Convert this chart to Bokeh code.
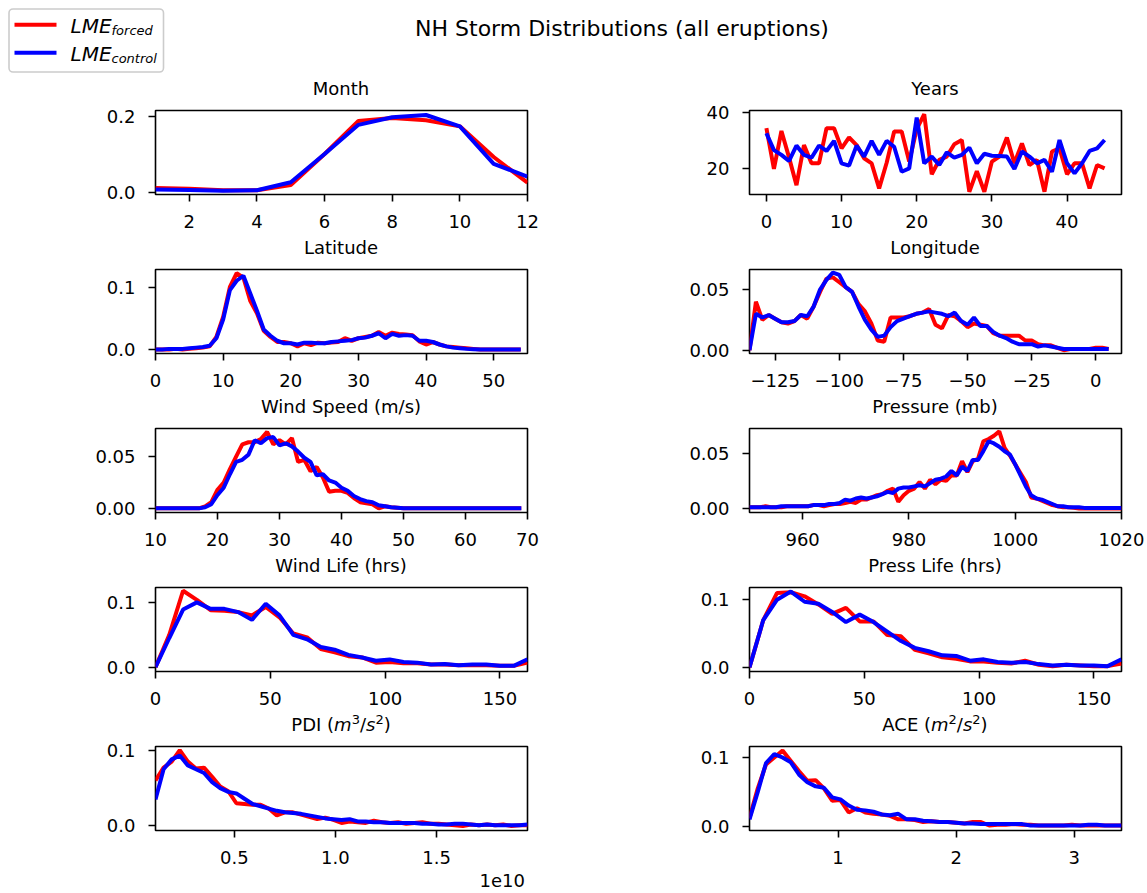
from bokeh.plotting import figure
from bokeh.layouts import column, row
from bokeh.models import Range1d, FixedTicker, NumeralTickFormatter, CustomJSTickFormatter, Quad, Div
from bokeh.core.properties import value
from bokeh.embed import file_html
from bokeh.resources import INLINE

FONT = "DejaVu Sans"
RED = "#ff0000"
BLUE = "#0000ff"

# ---------------- data ----------------
month_x = [1, 2, 3, 4, 5, 6, 7, 8, 9, 10, 11, 12]
month_forced = [0.011, 0.009, 0.005, 0.005, 0.019, 0.101, 0.188, 0.196, 0.190, 0.174, 0.093, 0.025]
month_control = [0.007, 0.006, 0.004, 0.005, 0.026, 0.101, 0.178, 0.198, 0.204, 0.174, 0.075, 0.041]

years_x = list(range(46))
years_forced = [34.3, 19.8, 33.3, 24, 14, 28.3, 21.8, 21.8, 34.3, 34.3,
                27.1, 31, 28.3, 23.6, 21.8, 12.9, 22, 33.1, 33.1, 22.4,
                34, 39.3, 17.9, 23, 24.2, 28.6, 30.1, 11.7, 19, 11.7,
                22.4, 24.2, 31, 21.8, 28.9, 21.2, 23, 11.7, 26, 27.1,
                17.9, 21.8, 21.8, 12.9, 21.2, 20]
years_control = [32.5, 26.5, 24.8, 22.6, 28.1, 24.8, 23.8, 28.1, 26.2, 29.8,
                 21.8, 21, 28.1, 24.2, 29.8, 24.8, 29.8, 27.7, 18.8, 20,
                 38.1, 21.8, 24.2, 21.2, 25.7, 23.8, 24.8, 27.4, 21.8, 25.2,
                 24.5, 24.4, 24.2, 19.8, 26, 24.2, 21.8, 23, 18.8, 30.1,
                 21.8, 18.2, 21.8, 26.2, 27.1, 30.1]

lat_x = list(range(55))
lat_forced = [0.0, 0.0, 0.0, 0.001, 0.0, 0.001, 0.002, 0.003, 0.005, 0.02,
              0.052, 0.1, 0.122, 0.115, 0.078, 0.058, 0.03, 0.02, 0.012, 0.012,
              0.01, 0.005, 0.01, 0.007, 0.011, 0.01, 0.011, 0.012, 0.018, 0.014,
              0.018, 0.02, 0.022, 0.028, 0.022, 0.027, 0.025, 0.024, 0.023, 0.013,
              0.008, 0.012, 0.008, 0.005, 0.004, 0.003, 0.002, 0.001, 0.0, 0.0,
              0.0, 0.0, 0.0, 0.0, 0.0]
lat_control = [0.0, 0.0, 0.001, 0.001, 0.001, 0.002, 0.003, 0.004, 0.006, 0.018,
               0.048, 0.095, 0.11, 0.118, 0.09, 0.062, 0.032, 0.022, 0.014, 0.01,
               0.01, 0.008, 0.011, 0.011, 0.01, 0.01, 0.012, 0.013, 0.014, 0.015,
               0.018, 0.019, 0.022, 0.026, 0.018, 0.025, 0.022, 0.023, 0.022, 0.014,
               0.014, 0.012, 0.008, 0.005, 0.003, 0.002, 0.001, 0.0005, 0.0, 0.0,
               0.0, 0.0, 0.0, 0.0, 0.0]

lon_x = [-135 + 2.5 * i for i in range(57)]
lon_forced = [0.0, 0.04, 0.025, 0.029, 0.026, 0.023, 0.022, 0.024, 0.029, 0.026,
              0.036, 0.048, 0.059, 0.06, 0.056, 0.052, 0.048, 0.038, 0.032, 0.022,
              0.008, 0.007, 0.027, 0.027, 0.027, 0.028, 0.03, 0.031, 0.034, 0.021,
              0.018, 0.029, 0.028, 0.024, 0.019, 0.022, 0.021, 0.02, 0.014, 0.012,
              0.012, 0.012, 0.012, 0.008, 0.008, 0.005, 0.004, 0.004, 0.002, 0.0,
              0.001, 0.001, 0.001, 0.001, 0.002, 0.002, 0.001]
lon_control = [0.0, 0.03, 0.027, 0.029, 0.026, 0.023, 0.023, 0.024, 0.029, 0.028,
               0.036, 0.05, 0.058, 0.064, 0.062, 0.052, 0.048, 0.036, 0.025, 0.017,
               0.011, 0.012, 0.019, 0.024, 0.026, 0.028, 0.03, 0.031, 0.032, 0.031,
               0.03, 0.028, 0.031, 0.024, 0.021, 0.027, 0.02, 0.02, 0.015, 0.012,
               0.01, 0.007, 0.005, 0.005, 0.005, 0.003, 0.004, 0.003, 0.002, 0.001,
               0.001, 0.001, 0.001, 0.001, 0.001, 0.001, 0.001]

wind_x = list(range(10, 70))
wind_forced = [0, 0, 0, 0, 0, 0, 0, 0.0, 0.002, 0.006,
               0.018, 0.025, 0.038, 0.05, 0.062, 0.064, 0.064, 0.067, 0.074, 0.062,
               0.066, 0.062, 0.068, 0.045, 0.047, 0.036, 0.04, 0.03, 0.016, 0.017,
               0.017, 0.015, 0.01, 0.006, 0.005, 0.004, 0.0, 0.002, 0.001, 0.0005,
               0, 0, 0, 0, 0, 0, 0, 0, 0, 0,
               0, 0, 0, 0, 0, 0, 0, 0, 0, 0]
wind_control = [0, 0, 0, 0, 0, 0, 0, 0.0, 0.001, 0.004,
                0.013, 0.02, 0.033, 0.045, 0.047, 0.052, 0.066, 0.063, 0.068, 0.069,
                0.061, 0.063, 0.06, 0.055, 0.049, 0.045, 0.032, 0.033, 0.027, 0.025,
                0.02, 0.017, 0.012, 0.009, 0.007, 0.006, 0.003, 0.002, 0.001, 0.0005,
                0, 0, 0, 0, 0, 0, 0, 0, 0, 0,
                0, 0, 0, 0, 0, 0, 0, 0, 0, 0]

pres_x = list(range(950, 1021))
pres_forced = [0.001, 0.001, 0.001, 0.002, 0.001, 0.001, 0.001, 0.002, 0.002, 0.002,
               0.002, 0.002, 0.003, 0.003, 0.002, 0.003, 0.004, 0.004, 0.005, 0.006,
               0.005, 0.008, 0.008, 0.01, 0.012, 0.013, 0.016, 0.018, 0.006, 0.012,
               0.016, 0.018, 0.024, 0.018, 0.026, 0.022, 0.026, 0.025, 0.03, 0.03,
               0.043, 0.033, 0.043, 0.045, 0.061, 0.063, 0.066, 0.07, 0.055, 0.048,
               0.04, 0.032, 0.024, 0.01, 0.009, 0.007, 0.005, 0.003, 0.002, 0.001,
               0.001, 0.0005, 0, 0, 0, 0, 0, 0, 0, 0, 0]
pres_control = [0.001, 0.001, 0.001, 0.001, 0.001, 0.001, 0.002, 0.002, 0.002, 0.002,
                0.002, 0.002, 0.003, 0.003, 0.003, 0.004, 0.004, 0.005, 0.008, 0.007,
                0.009, 0.01, 0.009, 0.01, 0.011, 0.013, 0.015, 0.014, 0.018, 0.019,
                0.019, 0.02, 0.021, 0.02, 0.023, 0.026, 0.027, 0.029, 0.034, 0.03,
                0.038, 0.034, 0.044, 0.044, 0.052, 0.061, 0.059, 0.056, 0.052, 0.049,
                0.04, 0.03, 0.02, 0.012, 0.009, 0.008, 0.006, 0.004, 0.002, 0.002,
                0.001, 0.001, 0.001, 0.0005, 0.0005, 0.0005, 0.0005, 0.0005, 0.0005, 0.0005, 0.0005]

life_x = [6 * i for i in range(28)]
wlife_forced = [0, 0.05, 0.118, 0.104, 0.088, 0.087, 0.085, 0.08, 0.093, 0.077,
                0.052, 0.046, 0.028, 0.023, 0.017, 0.015, 0.007, 0.008, 0.006, 0.006,
                0.004, 0.004, 0.003, 0.003, 0.003, 0.002, 0.002, 0.007]
wlife_control = [0, 0.045, 0.089, 0.1, 0.09, 0.09, 0.085, 0.073, 0.098, 0.08,
                 0.05, 0.043, 0.031, 0.027, 0.019, 0.015, 0.01, 0.012, 0.008, 0.007,
                 0.004, 0.005, 0.003, 0.004, 0.004, 0.002, 0.002, 0.012]
plife_forced = [0, 0.07, 0.11, 0.111, 0.105, 0.093, 0.079, 0.088, 0.068, 0.068,
                0.048, 0.046, 0.026, 0.021, 0.015, 0.013, 0.009, 0.009, 0.007, 0.006,
                0.01, 0.004, 0.002, 0.004, 0.003, 0.002, 0.002, 0.006]
plife_control = [0, 0.07, 0.1, 0.112, 0.097, 0.094, 0.082, 0.067, 0.078, 0.067,
                 0.053, 0.039, 0.029, 0.024, 0.018, 0.017, 0.01, 0.012, 0.008, 0.007,
                 0.008, 0.005, 0.003, 0.004, 0.003, 0.003, 0.002, 0.012]

pdi_x_1e10 = [round(0.11 + 0.04 * i, 2) for i in range(47)]
pdi_forced = [0.06, 0.077, 0.085, 0.1, 0.085, 0.076, 0.077, 0.065, 0.052, 0.046,
              0.03, 0.029, 0.028, 0.028, 0.023, 0.014, 0.018, 0.018, 0.015, 0.012,
              0.009, 0.011, 0.008, 0.004, 0.006, 0.005, 0.004, 0.007, 0.005, 0.004,
              0.005, 0.003, 0.004, 0.005, 0.003, 0.003, 0.002, 0.001, 0.0, 0.002,
              0.001, 0.002, 0.001, 0.002, 0.0, 0.001, 0.001]
pdi_control = [0.035, 0.075, 0.088, 0.093, 0.08, 0.075, 0.07, 0.058, 0.05, 0.045,
               0.043, 0.036, 0.029, 0.026, 0.023, 0.02, 0.018, 0.017, 0.016, 0.014,
               0.012, 0.01, 0.009, 0.008, 0.009, 0.006, 0.006, 0.005, 0.005, 0.004,
               0.004, 0.004, 0.004, 0.003, 0.003, 0.002, 0.002, 0.003, 0.003, 0.002,
               0.001, 0.002, 0.001, 0.001, 0.001, 0.001, 0.002]

ace_x = [round(0.25 + 0.07 * i, 2) for i in range(46)]
ace_forced = [0.012, 0.055, 0.09, 0.1, 0.11, 0.095, 0.08, 0.066, 0.067, 0.055,
              0.037, 0.038, 0.02, 0.026, 0.02, 0.018, 0.017, 0.015, 0.01, 0.01,
              0.009, 0.006, 0.007, 0.006, 0.006, 0.005, 0.004, 0.006, 0.006, 0.001,
              0.002, 0.002, 0.003, 0.002, 0.002, 0.001, 0.001, 0.001, 0.001, 0.002,
              0.001, 0.001, 0.001, 0.001, 0.001, 0.001]
ace_control = [0.01, 0.05, 0.092, 0.105, 0.1, 0.093, 0.075, 0.064, 0.058, 0.056,
               0.042, 0.039, 0.03, 0.024, 0.023, 0.021, 0.017, 0.016, 0.018, 0.01,
               0.01, 0.008, 0.007, 0.006, 0.006, 0.005, 0.004, 0.004, 0.003, 0.003,
               0.003, 0.003, 0.003, 0.003, 0.001, 0.001, 0.001, 0.001, 0.001, 0.001,
               0.001, 0.002, 0.002, 0.001, 0.001, 0.001]

series_names = ["LME", "LME"]
series_subs = ["forced", "control"]
suptitle = "NH Storm Distributions (all eruptions)"

SUP = '<sup style="font-size:13px;line-height:0;vertical-align:7px;">%s</sup>'

# ---------------- panels ----------------
panels = [
    dict(title="Month", x=month_x, f=month_forced, c=month_control, xlim=(1, 12), ylim=(-0.0062, 0.2159),
         xt=[2, 4, 6, 8, 10, 12], yt=[0.0, 0.2], xf="0", yf="0.0"),
    dict(title="Years", x=years_x, f=years_forced, c=years_control, xlim=(-2.25, 47.25), ylim=(10.7, 40.6),
         xt=[0, 10, 20, 30, 40], yt=[20, 40], xf="0", yf="0"),
    dict(title="Latitude", x=lat_x, f=lat_forced, c=lat_control, xlim=(0, 55), ylim=(-0.0064, 0.128),
         xt=[0, 10, 20, 30, 40, 50], yt=[0.0, 0.1], xf="0", yf="0.0"),
    dict(title="Longitude", x=lon_x, f=lon_forced, c=lon_control, xlim=(-135, 10), ylim=(-0.0027, 0.0665),
         xt=[-125, -100, -75, -50, -25, 0], yt=[0.0, 0.05], xf="minus", yf="0.00"),
    dict(title="Wind Speed (m/s)", x=wind_x, f=wind_forced, c=wind_control, xlim=(10, 70), ylim=(-0.004, 0.0773),
         xt=[10, 20, 30, 40, 50, 60, 70], yt=[0.0, 0.05], xf="0", yf="0.00"),
    dict(title="Pressure (mb)", x=pres_x, f=pres_forced, c=pres_control, xlim=(950, 1020), ylim=(-0.0037, 0.0726),
         xt=[960, 980, 1000, 1020], yt=[0.0, 0.05], xf="0", yf="0.00"),
    dict(title="Wind Life (hrs)", x=life_x, f=wlife_forced, c=wlife_control, xlim=(0, 162), ylim=(-0.0067, 0.123),
         xt=[0, 50, 100, 150], yt=[0.0, 0.1], xf="0", yf="0.0"),
    dict(title="Press Life (hrs)", x=life_x, f=plife_forced, c=plife_control, xlim=(0, 162), ylim=(-0.0059, 0.118),
         xt=[0, 50, 100, 150], yt=[0.0, 0.1], xf="0", yf="0.0"),
    dict(title="PDI (<i>m</i>" + SUP % "3" + "/<i>s</i>" + SUP % "2" + ")", x=pdi_x_1e10, f=pdi_forced,
         c=pdi_control, xlim=(0.11, 1.95), ylim=(-0.006, 0.105), xt=[0.5, 1.0, 1.5], yt=[0.0, 0.1],
         xf="0.0", yf="0.0"),
    dict(title="ACE (<i>m</i>" + SUP % "2" + "/<i>s</i>" + SUP % "2" + ")", x=ace_x, f=ace_forced,
         c=ace_control, xlim=(0.25, 3.40), ylim=(-0.0063, 0.116), xt=[1, 2, 3], yt=[0.0, 0.1],
         xf="0", yf="0.0"),
]

FRAME_W = 372
FRAME_H = 84
TOP = 10
BOTTOM = 43
TITLE_H = 22
HDR_H = 78
LEFT_W = 600
RIGHT_W = 547
LEFT_BL = 155
RIGHT_BL = 149

TXT = "font-family:'DejaVu Sans';font-size:18px;color:black;white-space:nowrap;overflow:visible;"


def fmt(kind):
    if kind == "minus":
        return CustomJSTickFormatter(code="return (tick < 0 ? '\u2212' : '') + Math.abs(tick).toFixed(0);")
    return NumeralTickFormatter(format=kind)


def title_div(text, left):
    bl = LEFT_BL if left else RIGHT_BL
    html = ('<div style="margin:0;padding:0;margin-left:%dpx;width:%dpx;height:%dpx;line-height:%dpx;'
            'text-align:center;%s">%s</div>') % (bl, FRAME_W, TITLE_H, TITLE_H, TXT, text)
    return Div(text=html, width=LEFT_W if left else RIGHT_W, height=TITLE_H, margin=0)


def make_panel(spec, left):
    bl = LEFT_BL if left else RIGHT_BL
    br = (LEFT_W if left else RIGHT_W) - bl - FRAME_W
    p = figure(width=bl + FRAME_W + br, height=TOP + FRAME_H + BOTTOM, title=None,
               x_range=Range1d(*spec["xlim"]), y_range=Range1d(*spec["ylim"]),
               output_backend="svg", toolbar_location=None,
               min_border_left=bl, min_border_right=br, min_border_top=TOP, min_border_bottom=BOTTOM)
    p.line(spec["x"], spec["f"], line_color=RED, line_width=4)
    p.line(spec["x"], spec["c"], line_color=BLUE, line_width=4)
    p.xgrid.visible = False
    p.ygrid.visible = False
    p.outline_line_color = "black"
    p.outline_line_width = 1.6
    p.outline_line_alpha = 1.0
    p.background_fill_color = "white"
    p.border_fill_color = "white"
    for ax in (p.xaxis[0], p.yaxis[0]):
        ax.axis_line_color = None
        ax.major_tick_out = 7
        ax.major_tick_in = 0
        ax.major_tick_line_color = "black"
        ax.major_tick_line_width = 1.6
        ax.minor_tick_line_color = None
        ax.major_label_text_font = FONT
        ax.major_label_text_font_size = "18px"
        ax.major_label_text_color = "black"
    p.xaxis[0].ticker = FixedTicker(ticks=spec["xt"])
    p.yaxis[0].ticker = FixedTicker(ticks=spec["yt"])
    p.xaxis[0].formatter = fmt(spec["xf"])
    p.yaxis[0].formatter = fmt(spec["yf"])
    p.xaxis[0].major_label_standoff = 13
    p.yaxis[0].major_label_standoff = 13
    return p


# ---------------- header: suptitle + legend ----------------
W = LEFT_W + RIGHT_W
hdr = figure(width=W, height=HDR_H, x_range=Range1d(0, W), y_range=Range1d(HDR_H, 0), title=None,
             output_backend="svg", toolbar_location=None, min_border=0)
hdr.axis.visible = False
hdr.xgrid.visible = False
hdr.ygrid.visible = False
hdr.outline_line_color = None
hdr.border_fill_color = "white"

qkw = {"border_radius": 4} if "border_radius" in Quad.properties() else {}
hdr.quad(left=[8.5], right=[163], top=[8.5], bottom=[71.5], fill_color="white",
         line_color="#cccccc", line_width=1.6, **qkw)
hdr.line([14, 56], [24.3, 24.3], line_color=RED, line_width=4)
hdr.line([14, 56], [52.3, 52.3], line_color=BLUE, line_width=4)
hdr.text(x=[70, 70], y=[25.8, 53.8], text=series_names, text_font=value(FONT), text_font_size="20px",
         text_font_style="italic", text_baseline="middle", text_color="black")
hdr.text(x=[111, 111], y=[29.5, 58], text=series_subs, text_font=value(FONT), text_font_size="13px",
         text_font_style="italic", text_baseline="middle", text_color="black")
hdr.text(x=[621.5], y=[27.5], text=[suptitle], text_font=value(FONT), text_font_size="22px",
         text_align="center", text_baseline="middle", text_color="black")

items = [hdr]
for r in range(5):
    items.append(row(title_div(panels[2 * r]["title"], True), title_div(panels[2 * r + 1]["title"], False)))
    items.append(row(make_panel(panels[2 * r], True), make_panel(panels[2 * r + 1], False)))

sci_html = ('<div style="margin:0;padding:0;margin-left:%dpx;width:%dpx;height:16px;line-height:16px;'
            'text-align:right;%s">1e10</div>') % (LEFT_BL, FRAME_W - 2, TXT)
items.append(Div(text=sci_html, width=W, height=19, margin=0))

layout = column(*items)
open("out.html", "w").write(file_html(layout, INLINE))
